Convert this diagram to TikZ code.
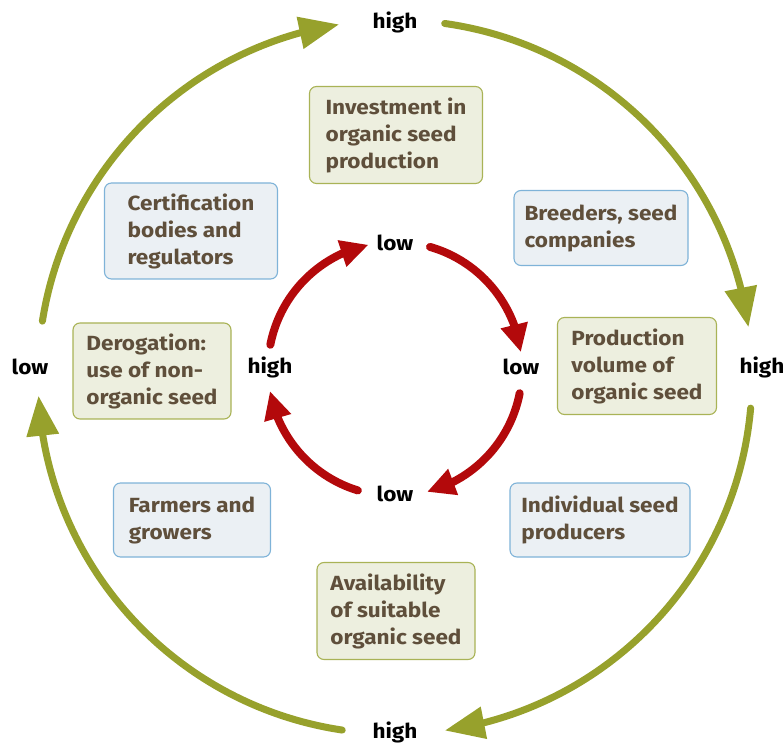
\documentclass[tikz,border=0pt]{standalone}
\usepackage{fontspec}
\setmainfont{Fira Sans}[BoldFeatures={FakeStretch=1.1}]
\usetikzlibrary{arrows.meta,bending}
\definecolor{olive}{HTML}{97A12C}
\definecolor{cyclered}{HTML}{B3090B}
\definecolor{gfill}{HTML}{EDEFDF}
\definecolor{gline}{HTML}{A9B356}
\definecolor{bfill}{HTML}{EBF0F4}
\definecolor{bline}{HTML}{7FB3D8}
\definecolor{txtbrown}{HTML}{5F4F3B}
\begin{document}
\begin{tikzpicture}[x=1pt,y=1pt,
  box/.style={rounded corners=7pt,line width=1.1pt,align=left,inner xsep=6pt,inner ysep=0pt,
    font=\fontsize{20.5}{27}\selectfont\bfseries,text=txtbrown},
  gbox/.style={box,draw=gline,fill=gfill},
  bbox/.style={box,draw=bline,fill=bfill},
  lbl/.style={font=\fontsize{20.5}{22}\selectfont\bfseries,text=black,inner sep=0pt},
  outer/.style={draw=olive,line width=7pt,line cap=round,-{Triangle[length=40pt,width=31pt,flex]}},
  inner/.style={draw=cyclered,line width=8pt,line cap=round,-{Triangle[length=28pt,width=26pt,flex]}}]
\useasboundingbox (0,0) rectangle (784,745);
\coordinate (O) at (395,368);
\coordinate (I) at (395,376);
% boxes
\node[gbox,minimum width=173pt,minimum height=97pt] (invest) at (396,610) {Investment in\\organic seed\\production};
\node[bbox,minimum width=173pt,minimum height=96pt] (cert) at (191,514) {Certification\\bodies and\\regulators\hspace{15pt}};
\node[bbox,minimum width=174pt,minimum height=75pt] (breed) at (601,517) {Breeders, seed\\companies};
\node[gbox,minimum width=159pt,minimum height=97pt] (prod) at (637,379) {Production\\volume of\\organic seed};
\node[gbox,minimum width=158pt,minimum height=96pt] (derog) at (152,374) {Derogation:\\use of non-\\organic seed};
\node[bbox,minimum width=157pt,minimum height=74pt] (farm) at (192,225) {Farmers and\\growers};
\node[bbox,minimum width=180pt,minimum height=74pt] (indiv) at (600,225) {Individual seed\\producers};
\node[gbox,minimum width=158pt,minimum height=97pt] (avail) at (396,134) {Availability\\of suitable\\organic seed};
% outer labels
\node[lbl] (otop) at (395,723) {high};
\node[lbl] (oright) at (762,378) {high};
\node[lbl] (obottom) at (395,13) {high};
\node[lbl] (oleft) at (30,378) {low};
% inner labels
\node[lbl] (itop) at (395,502) {low};
\node[lbl] (iright) at (521,378) {low};
\node[lbl] (ibottom) at (395,251) {low};
\node[lbl] (ileft) at (270,378) {high};
% outer arcs
\draw[outer] (O) ++(171:357) arc[start angle=171,end angle=99,radius=357];
\draw[outer] (O) ++(82:357) arc[start angle=82,end angle=8,radius=357];
\draw[outer] (O) ++(-5:357) arc[start angle=-5,end angle=-82,radius=357];
\draw[outer] (O) ++(-98.5:357) arc[start angle=-98.5,end angle=-177,radius=357];
% inner arcs
\draw[inner] (I) ++(74:127) arc[start angle=74,end angle=7.6,radius=127];
\draw[inner] (I) ++(-11:127) arc[start angle=-11,end angle=-75.4,radius=127];
\draw[inner] (I) ++(-107:127) arc[start angle=-107,end angle=-170,radius=127];
\draw[inner] (I) ++(169:127) arc[start angle=169,end angle=102,radius=127];
\end{tikzpicture}
\end{document}
